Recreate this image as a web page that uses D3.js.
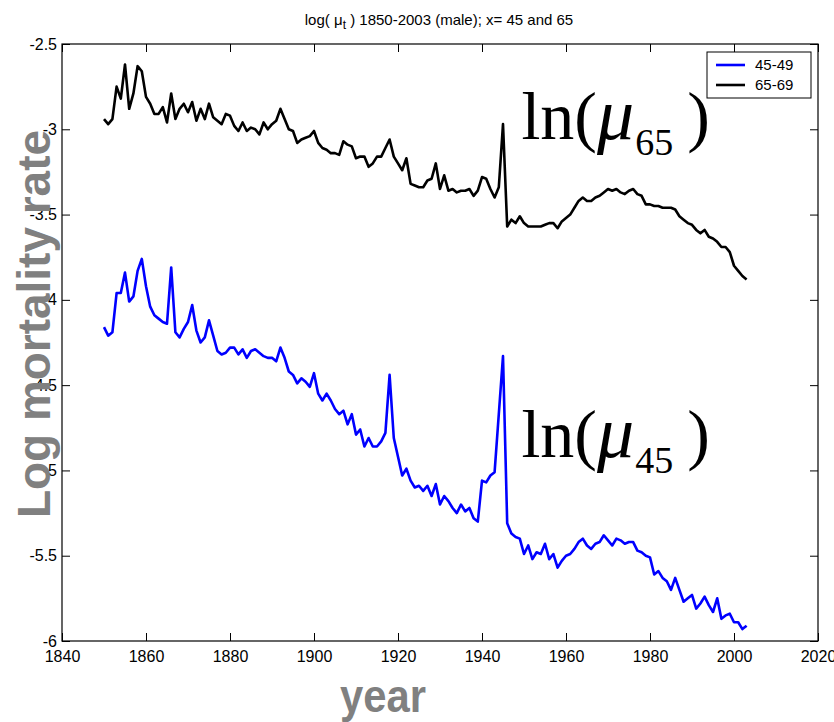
<!DOCTYPE html>
<html>
<head>
<meta charset="utf-8">
<script src="https://cdn.jsdelivr.net/npm/d3@7"></script>
<style>
body { margin: 0; background: #fff; }
svg text { font-family: "Liberation Sans", Arial, sans-serif; }
</style>
</head>
<body>
<div id="chart"></div>
<script>
// log mortality rates, males, 1850-2003
var years = d3.range(1850, 2004);
var rate45 = [
  -4.16, -4.21, -4.19, -3.96, -3.96, -3.84, -4.01, -3.98, -3.83, -3.76,
  -3.92, -4.04, -4.09, -4.11, -4.13, -4.14, -3.81, -4.19, -4.22, -4.17,
  -4.13, -4.03, -4.18, -4.25, -4.22, -4.12, -4.21, -4.30, -4.32, -4.31,
  -4.28, -4.28, -4.32, -4.29, -4.34, -4.30, -4.29, -4.31, -4.33, -4.34,
  -4.34, -4.36, -4.28, -4.34, -4.42, -4.44, -4.49, -4.46, -4.48, -4.51,
  -4.43, -4.55, -4.59, -4.55, -4.59, -4.64, -4.67, -4.65, -4.73, -4.67,
  -4.79, -4.76, -4.86, -4.81, -4.86, -4.86, -4.83, -4.78, -4.44, -4.81,
  -4.92, -5.03, -4.99, -5.06, -5.10, -5.09, -5.12, -5.09, -5.15, -5.08,
  -5.20, -5.15, -5.18, -5.22, -5.25, -5.20, -5.24, -5.22, -5.28, -5.30,
  -5.06, -5.07, -5.03, -5.01, -4.67, -4.33, -5.31, -5.37, -5.39, -5.40,
  -5.49, -5.44, -5.52, -5.48, -5.49, -5.43, -5.52, -5.49, -5.57, -5.53,
  -5.50, -5.49, -5.46, -5.42, -5.40, -5.44, -5.46, -5.43, -5.42, -5.38,
  -5.41, -5.44, -5.40, -5.41, -5.43, -5.42, -5.42, -5.47, -5.48, -5.50,
  -5.51, -5.61, -5.59, -5.63, -5.65, -5.70, -5.63, -5.70, -5.77, -5.75,
  -5.73, -5.81, -5.78, -5.74, -5.79, -5.83, -5.75, -5.87, -5.85, -5.84,
  -5.89, -5.89, -5.93, -5.91
];
var rate65 = [
  -2.94, -2.97, -2.94, -2.75, -2.82, -2.62, -2.88, -2.79, -2.63, -2.66,
  -2.81, -2.85, -2.91, -2.91, -2.87, -2.96, -2.79, -2.94, -2.88, -2.85,
  -2.90, -2.84, -2.95, -2.88, -2.94, -2.85, -2.93, -2.95, -2.97, -2.91,
  -2.92, -2.98, -3.01, -2.96, -3.01, -2.99, -3.00, -3.03, -2.96, -3.00,
  -2.97, -2.95, -2.88, -2.94, -3.00, -3.01, -3.08, -3.06, -3.05, -3.04,
  -3.01, -3.08, -3.11, -3.12, -3.14, -3.14, -3.15, -3.07, -3.09, -3.10,
  -3.17, -3.16, -3.16, -3.22, -3.20, -3.16, -3.16, -3.11, -3.06, -3.16,
  -3.20, -3.24, -3.17, -3.32, -3.33, -3.34, -3.34, -3.30, -3.29, -3.20,
  -3.35, -3.27, -3.36, -3.35, -3.37, -3.36, -3.36, -3.35, -3.39, -3.36,
  -3.28, -3.29, -3.35, -3.40, -3.34, -2.97, -3.57, -3.53, -3.55, -3.51,
  -3.55, -3.57, -3.57, -3.57, -3.57, -3.56, -3.55, -3.55, -3.58, -3.54,
  -3.52, -3.50, -3.46, -3.42, -3.40, -3.42, -3.42, -3.40, -3.39, -3.37,
  -3.35, -3.36, -3.35, -3.37, -3.38, -3.36, -3.35, -3.38, -3.39, -3.44,
  -3.44, -3.45, -3.45, -3.46, -3.46, -3.46, -3.47, -3.51, -3.53, -3.55,
  -3.56, -3.59, -3.61, -3.59, -3.63, -3.64, -3.66, -3.69, -3.69, -3.72,
  -3.80, -3.83, -3.86, -3.88
];
var seriesNames = ["45-49", "65-69"];
var seriesColors = ["#0000ff", "#000000"];
var xTicks = [1840, 1860, 1880, 1900, 1920, 1940, 1960, 1980, 2000, 2020];
var yTicks = [-6, -5.5, -5, -4.5, -4, -3.5, -3, -2.5];

var margin = { top: 44, right: 16, bottom: 81, left: 62 },
    width = 834 - margin.left - margin.right,
    height = 722 - margin.top - margin.bottom;

var svg = d3.select("#chart")
    .append("svg")
    .attr("width", 834)
    .attr("height", 722)
    .append("g")
    .attr("transform", "translate(" + margin.left + "," + margin.top + ")");

var x = d3.scaleLinear().domain([1840, 2020]).range([0, width]);
var y = d3.scaleLinear().domain([-6, -2.5]).range([height, 0]);

// axes, ticks pointing inward (matlab style)
svg.append("g")
    .attr("transform", "translate(0," + height + ")")
    .call(d3.axisBottom(x).tickValues(xTicks).tickFormat(d3.format("d"))
        .tickSizeInner(-8).tickSizeOuter(0).tickPadding(10));
svg.append("g")
    .call(d3.axisLeft(y).tickValues(yTicks).tickFormat(function (d) { return String(d); })
        .tickSizeInner(-8).tickSizeOuter(0).tickPadding(5));
svg.append("g")
    .call(d3.axisTop(x).tickValues(xTicks).tickFormat("").tickSizeInner(-8).tickSizeOuter(0));
svg.append("g")
    .attr("transform", "translate(" + width + ",0)")
    .call(d3.axisRight(y).tickValues(yTicks).tickFormat("").tickSizeInner(-8).tickSizeOuter(0));

svg.selectAll(".domain").remove();
svg.selectAll(".tick line").attr("stroke", "#000");
svg.selectAll(".tick text")
    .attr("fill", "#000")
    .style("font-size", "16px");

svg.append("rect")
    .attr("width", width)
    .attr("height", height)
    .attr("fill", "none")
    .attr("stroke", "#000")
    .attr("stroke-width", 1.2);

// lines
var line = d3.line()
    .x(function (d) { return x(d[0]); })
    .y(function (d) { return y(d[1]); });

[rate45, rate65].forEach(function (vals, i) {
    svg.append("path")
        .datum(years.map(function (yr, j) { return [yr, vals[j]]; }))
        .attr("fill", "none")
        .attr("stroke", seriesColors[i])
        .attr("stroke-width", 2.6)
        .attr("stroke-linejoin", "round")
        .attr("d", line);
});

// ln(mu) annotations
function lnLabel(sub, yr, v) {
    var t = svg.append("text")
        .attr("x", x(yr))
        .attr("y", y(v))
        .style("font-family", "'Liberation Serif', 'Times New Roman', serif")
        .style("font-size", "68px")
        .attr("fill", "#000");
    t.append("tspan").text("ln(");
    t.append("tspan").style("font-style", "italic").style("font-size", "74px").text("\u03bc");
    t.append("tspan").attr("dy", 16).attr("dx", 1).style("font-size", "38px").text(sub);
    t.append("tspan").attr("dy", -16).attr("dx", 14).text(")");
}
lnLabel("65", 1949.4, -3.057);
lnLabel("45", 1949.4, -4.921);

// legend
var legend = svg.append("g")
    .attr("transform", "translate(" + (width - 111) + ",8)");
legend.append("rect")
    .attr("width", 104)
    .attr("height", 46)
    .attr("fill", "#fff")
    .attr("stroke", "#000")
    .attr("stroke-width", 1);
seriesNames.forEach(function (name, i) {
    legend.append("line")
        .attr("x1", 9).attr("x2", 38)
        .attr("y1", 13 + i * 20).attr("y2", 13 + i * 20)
        .attr("stroke", seriesColors[i])
        .attr("stroke-width", 2.6);
    legend.append("text")
        .attr("x", 48)
        .attr("y", 13 + i * 20)
        .attr("dy", "0.35em")
        .style("font-size", "15px")
        .text(name);
});

// title and axis labels
var title = d3.select("svg").append("text")
    .attr("x", 439)
    .attr("y", 25)
    .attr("text-anchor", "middle")
    .style("font-size", "15px");
title.append("tspan").text("log( ");
title.append("tspan").text("\u03bc");
title.append("tspan").attr("dy", 4).style("font-size", "12px").text("t");
title.append("tspan").attr("dy", -4).text(" ) 1850-2003 (male); x= 45 and 65");

d3.select("svg").append("text")
    .attr("transform", "translate(50,324) rotate(-90)")
    .attr("text-anchor", "middle")
    .attr("textLength", 388)
    .attr("lengthAdjust", "spacingAndGlyphs")
    .attr("fill", "#808080")
    .style("font-size", "46px")
    .style("font-weight", "bold")
    .text("Log mortality rate");

d3.select("svg").append("text")
    .attr("x", 383)
    .attr("y", 712)
    .attr("text-anchor", "middle")
    .attr("textLength", 86)
    .attr("lengthAdjust", "spacingAndGlyphs")
    .attr("fill", "#808080")
    .style("font-size", "46px")
    .style("font-weight", "bold")
    .text("year");
</script>
</body>
</html>
